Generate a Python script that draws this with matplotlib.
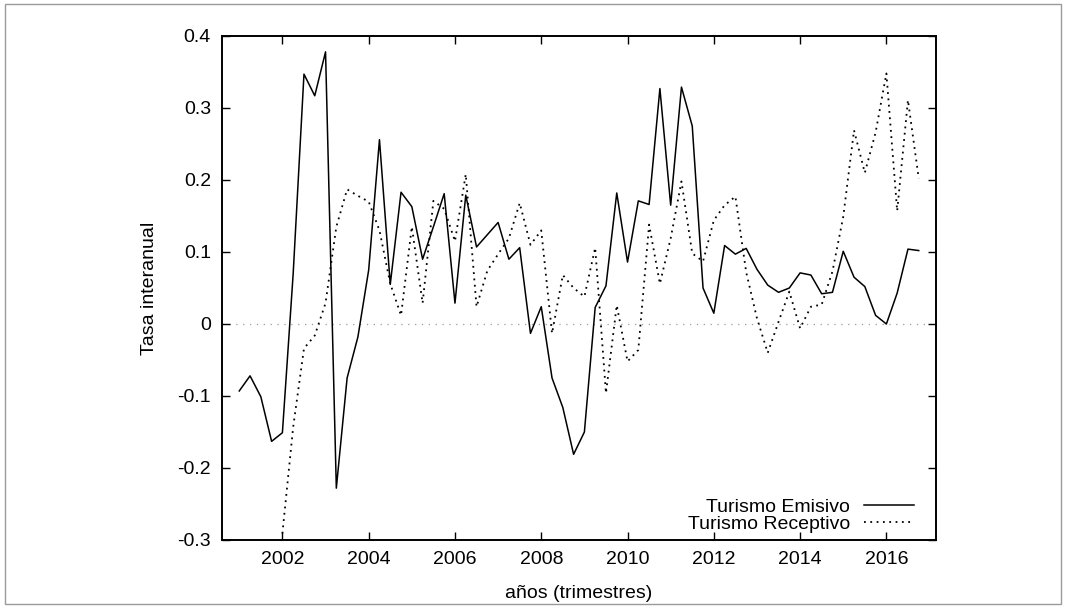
import numpy as np
import matplotlib
matplotlib.use("Agg")
import matplotlib.pyplot as plt
from matplotlib.patches import Rectangle
from matplotlib.ticker import FuncFormatter

plt.rcParams['font.family'] = ['Liberation Sans', 'DejaVu Sans']

# Quarterly data 2001T1 .. 2016T4
anios = list(range(2001, 2017))
trimestres = [0.0, 0.25, 0.5, 0.75]

emisivo = [
    -0.093, -0.072, -0.101, -0.163,
    -0.151, 0.070, 0.347, 0.317,
    0.378, -0.228, -0.075, -0.018,
    0.075, 0.256, 0.055, 0.183,
    0.163, 0.090, 0.135, 0.181,
    0.029, 0.179, 0.107, 0.124,
    0.141, 0.090, 0.106, -0.013,
    0.024, -0.075, -0.116, -0.181,
    -0.150, 0.023, 0.053, 0.182,
    0.086, 0.171, 0.166, 0.327,
    0.165, 0.329, 0.275, 0.050,
    0.015, 0.109, 0.097, 0.105,
    0.076, 0.054, 0.044, 0.050,
    0.071, 0.068, 0.042, 0.044,
    0.101, 0.065, 0.052, 0.012,
    0.000, 0.043, 0.104, 0.102,
]

nan = float('nan')
receptivo = [
    nan, nan, nan, nan,
    -0.291, -0.143, -0.034, -0.016,
    0.029, 0.135, 0.187, 0.178,
    0.170, 0.130, 0.056, 0.012,
    0.135, 0.029, 0.171, 0.160,
    0.115, 0.208, 0.024, 0.074,
    0.097, 0.119, 0.168, 0.110,
    0.130, -0.013, 0.068, 0.050,
    0.038, 0.106, -0.096, 0.026,
    -0.052, -0.036, 0.138, 0.056,
    0.119, 0.198, 0.098, 0.087,
    0.144, 0.165, 0.177, 0.072,
    0.008, -0.040, 0.003, 0.045,
    -0.006, 0.024, 0.027, 0.073,
    0.149, 0.269, 0.210, 0.266,
    0.348, 0.157, 0.311, 0.202,
]

x_ticks = [2002, 2004, 2006, 2008, 2010, 2012, 2014, 2016]
y_ticks = [-0.3, -0.2, -0.1, 0.0, 0.1, 0.2, 0.3, 0.4]

x = np.array([a + t for a in anios for t in trimestres])

W, H = 1066, 608
fig = plt.figure(figsize=(W / 100, H / 100), dpi=100)
ax = fig.add_axes([222 / W, 1 - 540 / H, (936 - 222) / W, (540 - 36) / H])

# outer gray border
fig.patches.append(Rectangle((5 / W, 4 / H), (1061 - 5) / W, (604 - 4) / H,
                             transform=fig.transFigure, fill=False,
                             edgecolor='#9a9a9a', linewidth=1.0))

ax.axhline(0, color='#9a9a9a', lw=0.9, ls=(0, (1, 4.5)), zorder=1)
ax.plot(x, emisivo, color='black', lw=1.1, label='Turismo Emisivo', zorder=3)
ax.plot(x, receptivo, color='black', lw=1.3, ls=(0, (1, 2.5)),
        label='Turismo Receptivo', zorder=2)

ax.set_xlim(2000.6, 2017.15)
ax.set_ylim(-0.3, 0.4)
ax.set_xticks(x_ticks)
ax.set_yticks(y_ticks)
ax.yaxis.set_major_formatter(FuncFormatter(lambda v, p: f"{v:g}" if abs(v) > 1e-9 else "0"))
ax.tick_params(direction='in', length=6, width=1.0, top=True, right=True,
               labelsize=14, pad=8)
for s in ax.spines.values():
    s.set_linewidth(1.4)

ax.set_xlabel('años (trimestres)', fontsize=14, labelpad=12)
ax.set_ylabel('Tasa interanual', fontsize=14, labelpad=14)

leg = ax.legend(loc='lower right', bbox_to_anchor=(1 - 12 / 714, -3 / 504),
                frameon=False, markerfirst=False,
                fontsize=14, handlelength=2.6, handletextpad=0.7,
                labelspacing=0.0, borderaxespad=0.3, borderpad=0.2)
for t in leg.get_texts():
    t.set_ha('right')
leg._legend_box.align = 'right'

fig.savefig('out.png', dpi=100)
